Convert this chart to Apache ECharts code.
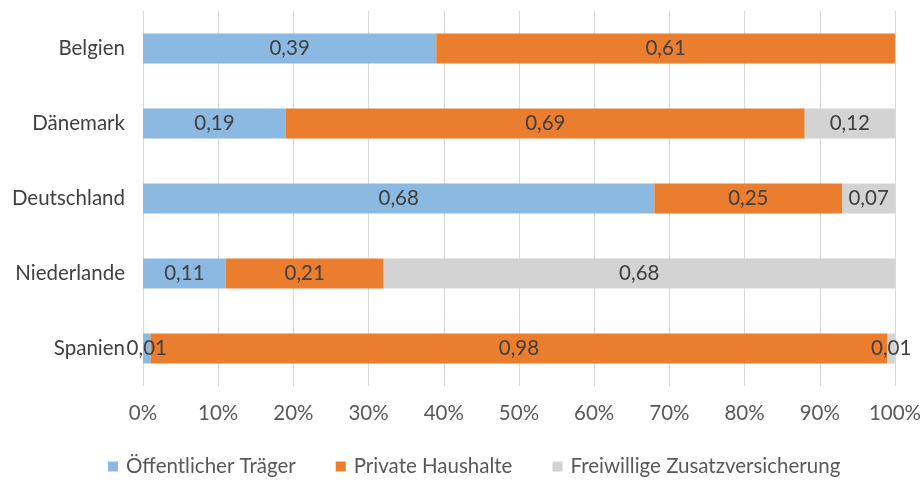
<!DOCTYPE html>
<html>
<head>
<meta charset="utf-8">
<script src="https://cdn.jsdelivr.net/npm/echarts@6/dist/echarts.min.js"></script>
<style>
  html, body { margin: 0; padding: 0; background: #fff; }
  #chart { width: 924px; height: 482px; }
</style>
</head>
<body>
<div id="chart"></div>
<script>
// Anteile an der Finanzierung je Land (Summe je Land = 1)
const countries = ['Belgien', 'Dänemark', 'Deutschland', 'Niederlande', 'Spanien'];
const seriesNames = ['Öffentlicher Träger', 'Private Haushalte', 'Freiwillige Zusatzversicherung'];
const oeffentlich = [0.39, 0.19, 0.68, 0.11, 0.01];
const privat = [0.61, 0.69, 0.25, 0.21, 0.98];
const freiwillig = [0, 0.12, 0.07, 0.68, 0.01];
const xTicks = [0, 0.1, 0.2, 0.3, 0.4, 0.5, 0.6, 0.7, 0.8, 0.9, 1.0];

const colors = ['#8cb9e1', '#eb7d2e', '#d3d3d3'];
const FONT = 'Lato';
const FS = 20.5;

const chart = echarts.init(document.getElementById('chart'), null, { renderer: 'canvas' });

function makeSeries(name, data, color) {
  return {
    name: name,
    type: 'bar',
    stack: 'total',
    data: data,
    barWidth: 30,
    itemStyle: { color: color },
    label: {
      show: true,
      position: 'inside',
      fontFamily: FONT,
      fontSize: FS,
      color: '#404040',
      formatter: p => p.value === 0 ? '' : p.value.toFixed(2).replace('.', ',')
    },
    emphasis: { disabled: true }
  };
}

chart.setOption({
  animation: false,
  backgroundColor: '#ffffff',
  textStyle: { fontFamily: FONT },
  grid: { left: 143, right: 26, top: 11, bottom: 96, containLabel: false },
  xAxis: {
    type: 'value',
    min: xTicks[0],
    max: xTicks[xTicks.length - 1],
    interval: 0.1,
    axisLine: { show: false },
    axisTick: { show: false },
    splitLine: { show: true, lineStyle: { color: '#d9d9d9', width: 1 } },
    axisLabel: {
      fontFamily: FONT,
      fontSize: FS,
      color: '#595959',
      margin: 17,
      formatter: v => Math.round(v * 100) + '%'
    }
  },
  yAxis: {
    type: 'category',
    data: countries,
    inverse: true,
    axisLine: { show: false },
    axisTick: { show: false },
    axisLabel: {
      fontFamily: FONT,
      fontSize: FS,
      color: '#404040',
      margin: 18
    }
  },
  legend: {
    data: seriesNames,
    top: 451,
    left: 103,
    icon: 'rect',
    itemWidth: 10,
    itemHeight: 10,
    itemGap: 40,
    textStyle: { fontFamily: FONT, fontSize: FS, color: '#595959', padding: [0, 0, 0, 3] }
  },
  series: [
    makeSeries(seriesNames[0], oeffentlich, colors[0]),
    makeSeries(seriesNames[1], privat, colors[1]),
    makeSeries(seriesNames[2], freiwillig, colors[2])
  ]
});
</script>
</body>
</html>
